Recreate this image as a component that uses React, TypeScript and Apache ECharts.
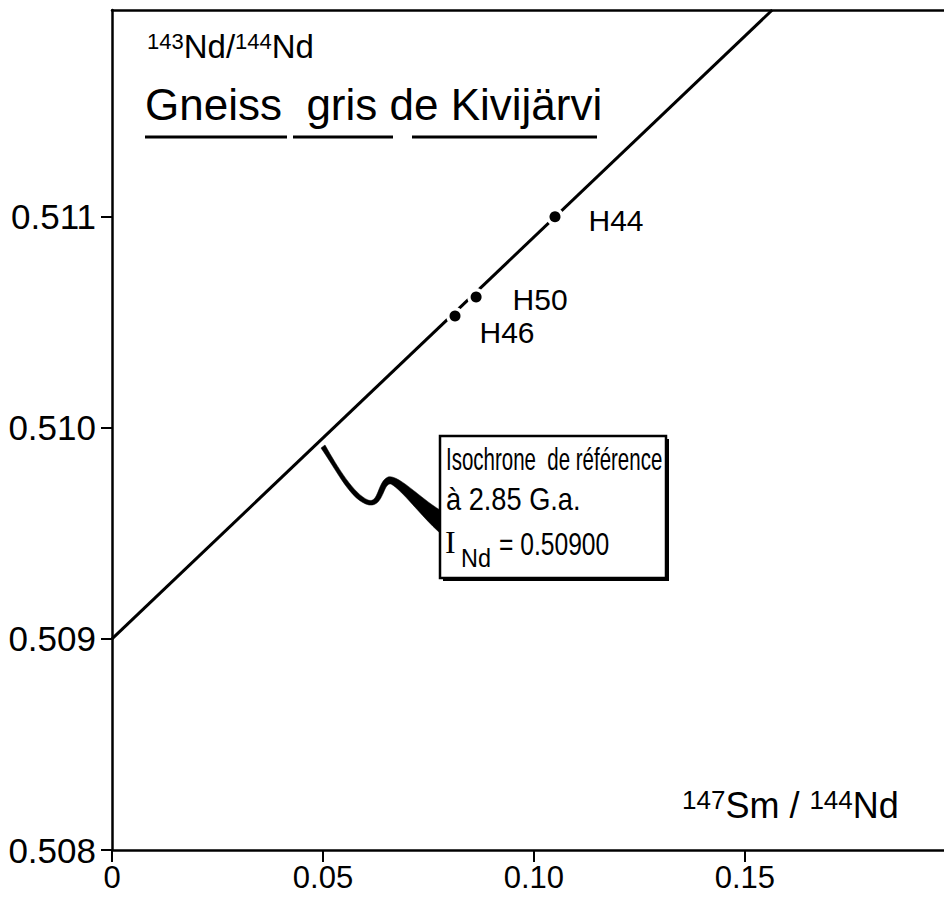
import React, { useEffect, useRef } from "react";
import * as echarts from "echarts";

// ---- data ----
const xTicks = [0, 0.05, 0.1, 0.15];
const xTickLabels = ["0", "0.05", "0.10", "0.15"];
const yTicks = [0.508, 0.509, 0.51, 0.511];
const yTickLabels = ["0.508", "0.509", "0.510", "0.511"];
const xRange = [0, 0.1972];
const yRange = [0.508, 0.51198];

const sampleNames = ["H44", "H50", "H46"];
const sampleX = [0.105, 0.0863, 0.0813];
const sampleY = [0.511, 0.51062, 0.51053];
const labelOffsets = [
  [28, 4],
  [31, 2],
  [19, 16],
];

// reference isochrone at 2.85 Ga, I_Nd = 0.50900
const isochroneX = [0, 0.1565];
const isochroneY = [0.509, 0.51198];

const SANS = "'Liberation Sans', Arial, sans-serif";

const pointerPath =
  "M325,445 C338,468 354,494 368,500 C379,504 377,482 388,477 C398,474 420,498 440,510 L440,533 C421,516 402,490 391,484 C383,482 384,507 369,505 C351,501 337,471 321,448 Z";

let registered = false;

export default function App() {
  const ref = useRef<HTMLDivElement>(null);

  useEffect(() => {
    if (!ref.current) return;
    if (!registered) {
      echarts.graphic.registerShape(
        "pointerShape",
        echarts.graphic.extendPath(pointerPath, {}) as any
      );
      registered = true;
    }
    const chart = echarts.init(ref.current, undefined, { renderer: "svg" });

    const pts = sampleX.map((x, i) => [x, sampleY[i], sampleNames[i]]);
    const pickLabel = (ticks: number[], labels: string[]) => (v: number) => {
      const i = ticks.findIndex((t) => Math.abs(t - v) < 1e-9);
      return i >= 0 ? labels[i] : "";
    };

    const option: any = {
      animation: false,
      backgroundColor: "#fff",
      grid: { left: 112, right: 0, top: 10, bottom: 48, containLabel: false },
      xAxis: [
        {
          type: "value",
          min: xRange[0],
          max: xRange[1],
          axisLine: { show: true, onZero: false, lineStyle: { color: "#000", width: 2.5 } },
          axisTick: {
            show: true,
            customValues: xTicks,
            length: 12,
            lineStyle: { color: "#000", width: 2 },
          },
          axisLabel: {
            customValues: xTicks,
            formatter: pickLabel(xTicks, xTickLabels),
            color: "#000",
            fontSize: 31,
            fontFamily: SANS,
            margin: 12,
          },
          splitLine: { show: false },
        },
        {
          type: "value",
          position: "top",
          min: xRange[0],
          max: xRange[1],
          axisLine: { show: true, onZero: false, lineStyle: { color: "#000", width: 2.5 } },
          axisTick: { show: false },
          axisLabel: { show: false },
          splitLine: { show: false },
        },
      ],
      yAxis: {
        type: "value",
        min: yRange[0],
        max: yRange[1],
        axisLine: { show: true, onZero: false, lineStyle: { color: "#000", width: 2.5 } },
        axisTick: {
          show: true,
          customValues: yTicks,
          length: 11,
          lineStyle: { color: "#000", width: 2 },
        },
        axisLabel: {
          customValues: yTicks,
          formatter: pickLabel(yTicks, yTickLabels),
          color: "#000",
          fontSize: 35,
          fontFamily: SANS,
          margin: 16,
        },
        splitLine: { show: false },
      },
      series: [
        {
          type: "line",
          data: isochroneX.map((x, i) => [x, isochroneY[i]]),
          showSymbol: false,
          clip: true,
          lineStyle: { color: "#000", width: 3 },
          z: 1,
        },
        {
          type: "scatter",
          data: pts,
          symbolSize: 18,
          itemStyle: { color: "#fff", opacity: 1 },
          z: 2,
        },
        {
          type: "scatter",
          data: pts.map((p, i) => ({
            value: p,
            label: { offset: labelOffsets[i] },
          })),
          symbolSize: 11,
          itemStyle: { color: "#000", opacity: 1 },
          z: 3,
          label: {
            show: true,
            position: "right",
            distance: 0,
            formatter: (p: any) => p.value[2],
            color: "#000",
            fontSize: 30,
            fontFamily: SANS,
          },
        },
      ],
      graphic: [
        {
          type: "text",
          x: 147,
          y: 30,
          style: {
            text: "{s|143}{m|Nd/}{s|144}{m|Nd}",
            fill: "#000",
            rich: {
              s: { fontSize: 22, fontFamily: SANS, verticalAlign: "top", lineHeight: 32 },
              m: { fontSize: 33, fontFamily: SANS, verticalAlign: "top", lineHeight: 32 },
            },
          },
        },
        {
          type: "text",
          x: 145,
          y: 82,
          style: {
            text: "Gneiss  gris de Kivijärvi",
            fill: "#000",
            fontSize: 44,
            fontFamily: SANS,
          },
        },
        { type: "line", shape: { x1: 145, y1: 137, x2: 287, y2: 137 }, style: { stroke: "#000", lineWidth: 3 } },
        { type: "line", shape: { x1: 293, y1: 137, x2: 393, y2: 137 }, style: { stroke: "#000", lineWidth: 3 } },
        { type: "line", shape: { x1: 412, y1: 137, x2: 597, y2: 137 }, style: { stroke: "#000", lineWidth: 3 } },
        {
          type: "text",
          x: 682,
          y: 787,
          style: {
            text: "{s|147}{m|Sm / }{s|144}{m|Nd}",
            fill: "#000",
            rich: {
              s: { fontSize: 26, fontFamily: SANS, verticalAlign: "top", lineHeight: 35 },
              m: { fontSize: 36, fontFamily: SANS, verticalAlign: "top", lineHeight: 35 },
            },
          },
        },
        // callout box
        { type: "rect", shape: { x: 443, y: 439, width: 226, height: 142 }, style: { fill: "#000" } },
        {
          type: "rect",
          shape: { x: 440, y: 436, width: 226, height: 142 },
          style: { fill: "#fff", stroke: "#000", lineWidth: 2.5 },
        },
        {
          type: "text",
          x: 446,
          y: 459,
          scaleX: 0.64,
          style: { text: "Isochrone  de référence", fill: "#000", fontSize: 32, fontFamily: SANS, verticalAlign: "middle" },
        },
        {
          type: "text",
          x: 446,
          y: 499,
          scaleX: 0.85,
          style: { text: "à 2.85 G.a.", fill: "#000", fontSize: 32, fontFamily: SANS, verticalAlign: "middle" },
        },
        {
          type: "text",
          x: 445,
          y: 542,
          style: { text: "I", fill: "#000", fontSize: 32, fontFamily: "'Liberation Serif', serif", verticalAlign: "middle" },
        },
        {
          type: "text",
          x: 461,
          y: 558,
          scaleX: 0.9,
          style: { text: "Nd", fill: "#000", fontSize: 26, fontFamily: SANS, verticalAlign: "middle" },
        },
        {
          type: "text",
          x: 499,
          y: 544,
          scaleX: 0.77,
          style: { text: "= 0.50900", fill: "#000", fontSize: 32, fontFamily: SANS, verticalAlign: "middle" },
        },
        {
          type: "pointerShape",
          x: 0,
          y: 0,
          style: { fill: "#000", stroke: "#000", lineWidth: 0.5 },
        },
      ],
    };

    chart.setOption(option);
    return () => chart.dispose();
  }, []);

  return (
    <div
      ref={ref}
      style={{ position: "absolute", left: 0, top: 0, width: 944, height: 898, background: "#fff" }}
    />
  );
}
